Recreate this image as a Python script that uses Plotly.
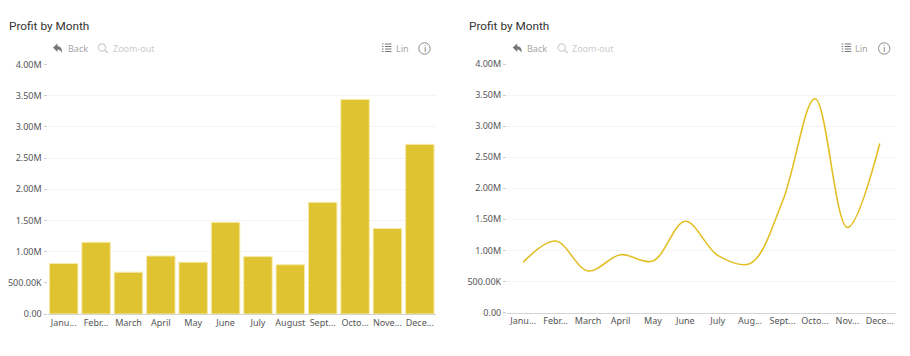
import plotly.graph_objects as go

months = ["January", "February", "March", "April", "May", "June", "July",
          "August", "September", "October", "November", "December"]
profit = [810000, 1150000, 670000, 930000, 830000, 1470000, 920000, 790000,
          1790000, 3440000, 1370000, 2720000]
bar_labels = ["Janu...", "Febr...", "March", "April", "May", "June", "July",
              "August", "Sept...", "Octo...", "Nove...", "Dece..."]
line_labels = ["Janu...", "Febr...", "March", "April", "May", "June", "July",
               "Aug...", "Sept...", "Octo...", "Nov...", "Dece..."]
y_ticks = [0, 500000, 1000000, 1500000, 2000000, 2500000, 3000000, 3500000, 4000000]
y_labels = ["0.00", "500.00K", "1.00M", "1.50M", "2.00M", "2.50M", "3.00M", "3.50M", "4.00M"]

W, H = 910, 356
GOLD = "#E0C330"
LABEL = "#555555"
FONT = "Noto Sans, Open Sans, sans-serif"

fig = go.Figure()
fig.add_trace(go.Bar(x=months, y=profit, marker=dict(color=GOLD, line=dict(color="#F5EAAA", width=1)),
                     width=0.88, xaxis="x", yaxis="y", showlegend=False))
fig.add_trace(go.Scatter(x=months, y=profit, mode="lines",
                         line=dict(color="#E3BF25", width=1.6, shape="spline", smoothing=1.0),
                         xaxis="x2", yaxis="y2", showlegend=False))


def px(x):
    return x / W


def py(y):
    return 1 - y / H


def xaxis(d0, d1, labels, anchor):
    return dict(domain=[px(d0), px(d1)], anchor=anchor, type="category", categoryorder="array",
                categoryarray=months, tickmode="array", tickvals=months, ticktext=labels,
                tickangle=0, showgrid=False, ticks="", showline=True, linecolor="#D4D4D4", linewidth=1,
                tickfont=dict(family=FONT, size=9, color=LABEL), range=[-0.5, 11.5], zeroline=False,
                automargin=False)


def yaxis(top, bottom, anchor):
    return dict(domain=[py(bottom), py(top)], anchor=anchor, range=[0, 4000000], tickmode="array",
                tickvals=y_ticks, ticktext=y_labels, showgrid=True, gridcolor="#F4F4F4", gridwidth=1,
                ticks="outside", ticklen=3, tickcolor="#CCCCCC", tickwidth=1, zeroline=False,
                showline=False, automargin=False, tickfont=dict(family=FONT, size=9, color=LABEL))


annotations = []
shapes = []


def text(x, y, s, size, color, family=FONT, anchor="left"):
    annotations.append(dict(x=px(x), y=py(y), xref="paper", yref="paper", text=s, showarrow=False,
                            xanchor=anchor, yanchor="middle", borderpad=0, borderwidth=0,
                            font=dict(family=family, size=size, color=color)))


def line(x0, y0, x1, y1, color, width=1):
    shapes.append(dict(type="line", xref="paper", yref="paper", x0=px(x0), y0=py(y0), x1=px(x1), y1=py(y1),
                       line=dict(color=color, width=width)))


def circle(cx, cy, r, color, width=1):
    shapes.append(dict(type="circle", xref="paper", yref="paper", x0=px(cx - r), x1=px(cx + r),
                       y0=py(cy + r), y1=py(cy - r), line=dict(color=color, width=width)))


def chrome(dx):
    text(9 + dx, 26, "Profit by Month", 11.8, "#333333", family="Roboto, sans-serif")
    # back arrow
    shapes.append(dict(type="path", xref="paper", yref="paper",
                       path=" ".join([
                           f"M {px(53 + dx)} {py(47.5)}", f"L {px(57.5 + dx)} {py(43.5)}",
                           f"L {px(57.5 + dx)} {py(46)}", f"Q {px(62.5 + dx)} {py(46.5)} {px(62 + dx)} {py(53)}",
                           f"Q {px(60.5 + dx)} {py(49.5)} {px(57.5 + dx)} {py(49.5)}",
                           f"L {px(57.5 + dx)} {py(52)}", "Z"]),
                       fillcolor="#777777", line=dict(width=0)))
    text(67.5 + dx, 48.5, "Back", 9, "#A6A6A6")
    # magnifier
    circle(102 + dx, 47.5, 3.6, "#CFCFCF", 1.2)
    line(104.7 + dx, 50.2, 108 + dx, 53, "#CFCFCF", 1.6)
    text(112.5 + dx, 48.5, "Zoom-out", 9, "#CCCCCC")
    # list icon
    for yy in (44, 46.5, 49, 51.5):
        line(385 + dx, yy, 391.5 + dx, yy, "#777777", 1)
        line(382 + dx, yy, 383.5 + dx, yy, "#777777", 1)
    text(395.5 + dx, 48.5, "Lin", 9, "#A6A6A6")
    # info icon
    circle(424.5 + dx, 48.5, 5.7, "#8A8A8A", 1)
    text(424.5 + dx, 48.5, "i", 9, "#777777", anchor="center")


chrome(0)
chrome(459.7)

fig.update_layout(
    width=W, height=H, autosize=False,
    margin=dict(l=0, r=0, t=0, b=0, pad=0, autoexpand=False),
    paper_bgcolor="white", plot_bgcolor="white",
    bargap=0.12, hovermode=False,
    xaxis=xaxis(47.5, 436, bar_labels, "y"),
    yaxis=yaxis(64.5, 314, "x"),
    xaxis2=xaxis(507, 896, line_labels, "y2"),
    yaxis2=yaxis(64, 312.5, "x2"),
    annotations=annotations, shapes=shapes,
)

fig.write_html("out.html", post_script="document.body.style.margin='0';",
               config={"displayModeBar": False})
